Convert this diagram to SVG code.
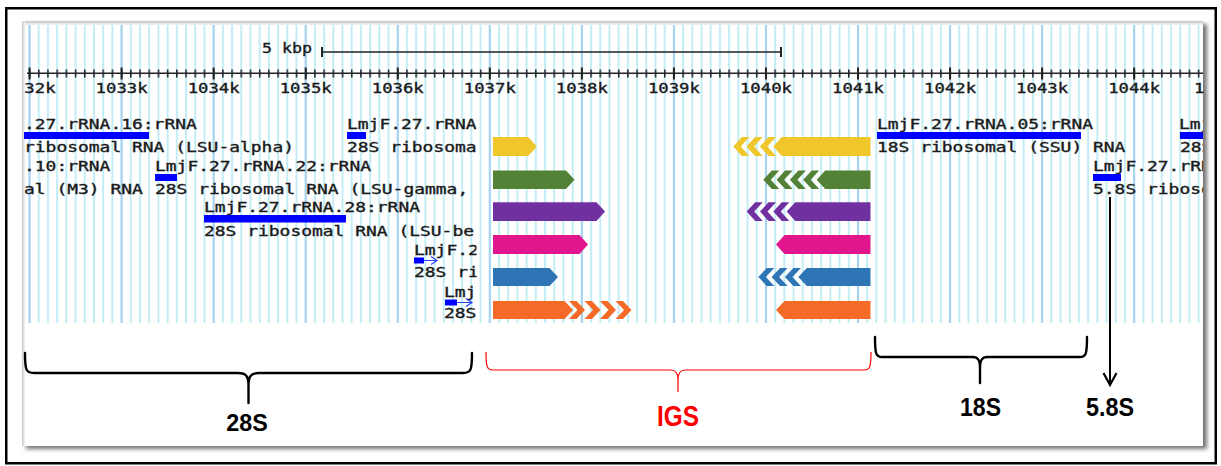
<svg xmlns="http://www.w3.org/2000/svg" width="1221" height="466" viewBox="0 0 1221 466">
<defs>
<style>
.m{font-family:"DejaVu Sans Mono","Liberation Mono",monospace;font-size:14px;fill:#1a1a1a;stroke:#1a1a1a;stroke-width:0.35}
.r{font-family:"DejaVu Sans Mono","Liberation Mono",monospace;font-size:14px;fill:#1a1a1a;stroke:#1a1a1a;stroke-width:0.35;text-anchor:middle}
.b{font-family:"Liberation Sans",Arial,sans-serif;font-weight:bold;fill:#000;text-anchor:middle}
.bar{fill:#0000ff}
.brk{fill:none;stroke:#000;stroke-width:2.4;stroke-linecap:round;stroke-linejoin:round}
.y{fill:#EFC72A}.g{fill:#538135}.p{fill:#7030A0}.k{fill:#E1168C}.u{fill:#2E75B6}.o{fill:#F56A27}
</style>
<pattern id="minor" patternUnits="userSpaceOnUse" x="120.6" y="0" width="9.205" height="466">
<rect x="0" y="0" width="2" height="466" fill="#c2edf5"/>
</pattern>
<pattern id="major" patternUnits="userSpaceOnUse" x="120.6" y="0" width="92.05" height="466">
<rect x="0" y="0" width="2" height="466" fill="#a6d2ef"/>
</pattern>
<pattern id="tick" patternUnits="userSpaceOnUse" x="120.85" y="0" width="9.205" height="466">
<rect x="0" y="0" width="1.5" height="466" fill="#222"/>
</pattern>
<pattern id="mtick" patternUnits="userSpaceOnUse" x="120.6" y="0" width="92.05" height="466">
<rect x="0" y="0" width="2" height="466" fill="#222"/>
</pattern>
<linearGradient id="topg" x1="0" y1="0" x2="0" y2="1">
<stop offset="0" stop-color="#c4c4c4"/><stop offset="1" stop-color="#f4f4f4"/>
</linearGradient>
<linearGradient id="leftg" x1="0" y1="0" x2="1" y2="0">
<stop offset="0" stop-color="#c8c8c8"/><stop offset="1" stop-color="#f4f4f4"/>
</linearGradient>
<filter id="sh" x="-3%" y="-3%" width="106%" height="108%">
<feDropShadow dx="4" dy="3" stdDeviation="2" flood-color="#000" flood-opacity="0.55"/>
</filter>
<clipPath id="trk"><rect x="25" y="24" width="1178" height="300"/></clipPath>
<clipPath id="leftc"><rect x="24" y="100" width="452.5" height="230"/></clipPath>
<clipPath id="rightc"><rect x="870" y="100" width="333" height="230"/></clipPath>
</defs>
<rect width="1221" height="466" fill="#fff"/>
<rect x="6.25" y="8.25" width="1209.5" height="455" fill="none" stroke="#000" stroke-width="2.5"/>
<g id="panel">
<rect x="22" y="21" width="1181" height="425" fill="#fff" filter="url(#sh)"/>
<rect x="22" y="21" width="1181" height="4" fill="url(#topg)"/>
<rect x="22" y="21" width="3" height="425" fill="url(#leftg)"/>
</g>
<g id="grid">
<rect x="25" y="25" width="1178" height="298" fill="url(#minor)"/>
<rect x="25" y="25" width="1178" height="298" fill="url(#major)"/>
</g>
<g id="ruler">
<line x1="27" y1="73.3" x2="1203" y2="73.3" stroke="#222" stroke-width="1.6"/>
<rect x="27" y="69.5" width="1176" height="8" fill="url(#tick)"/>
<rect x="27" y="67.5" width="1176" height="12" fill="url(#mtick)"/>
<g clip-path="url(#trk)">
<text class="r" x="29.55" y="92.5" textLength="52" lengthAdjust="spacingAndGlyphs">1032k</text>
</g>
<text class="r" x="121.6" y="92.5" textLength="52" lengthAdjust="spacingAndGlyphs">1033k</text>
<text class="r" x="213.65" y="92.5" textLength="52" lengthAdjust="spacingAndGlyphs">1034k</text>
<text class="r" x="305.7" y="92.5" textLength="52" lengthAdjust="spacingAndGlyphs">1035k</text>
<text class="r" x="397.75" y="92.5" textLength="52" lengthAdjust="spacingAndGlyphs">1036k</text>
<text class="r" x="489.8" y="92.5" textLength="52" lengthAdjust="spacingAndGlyphs">1037k</text>
<text class="r" x="581.85" y="92.5" textLength="52" lengthAdjust="spacingAndGlyphs">1038k</text>
<text class="r" x="673.9" y="92.5" textLength="52" lengthAdjust="spacingAndGlyphs">1039k</text>
<text class="r" x="765.95" y="92.5" textLength="52" lengthAdjust="spacingAndGlyphs">1040k</text>
<text class="r" x="858" y="92.5" textLength="52" lengthAdjust="spacingAndGlyphs">1041k</text>
<text class="r" x="950.05" y="92.5" textLength="52" lengthAdjust="spacingAndGlyphs">1042k</text>
<text class="r" x="1042.1" y="92.5" textLength="52" lengthAdjust="spacingAndGlyphs">1043k</text>
<text class="r" x="1134.15" y="92.5" textLength="52" lengthAdjust="spacingAndGlyphs">1044k</text>
<text class="m" x="1194" y="92.5" textLength="10.4" lengthAdjust="spacingAndGlyphs">1</text>
</g>
<g id="scalebar">
<text class="m" x="262" y="53" textLength="50" lengthAdjust="spacingAndGlyphs">5 kbp</text>
<line x1="322" y1="52" x2="781" y2="52" stroke="#222" stroke-width="1.5"/>
<line x1="322" y1="47" x2="322" y2="57" stroke="#222" stroke-width="2"/>
<line x1="781" y1="47" x2="781" y2="57" stroke="#222" stroke-width="2"/>
</g>
<g id="tracks-28S" clip-path="url(#leftc)">
<text class="m" x="24" y="129" textLength="172.8" lengthAdjust="spacingAndGlyphs">.27.rRNA.16:rRNA</text>
<rect class="bar" x="24" y="132" width="125" height="7"/>
<text class="m" x="347" y="129" textLength="129.6" lengthAdjust="spacingAndGlyphs">LmjF.27.rRNA</text>
<rect class="bar" x="347" y="132" width="19" height="7"/>
<text class="m" x="24" y="152" textLength="270" lengthAdjust="spacingAndGlyphs">ribosomal RNA (LSU-alpha)</text>
<text class="m" x="347" y="152" textLength="129.6" lengthAdjust="spacingAndGlyphs">28S ribosoma</text>
<text class="m" x="24" y="170.5" textLength="86.4" lengthAdjust="spacingAndGlyphs">.10:rRNA</text>
<text class="m" x="155" y="170.5" textLength="216" lengthAdjust="spacingAndGlyphs">LmjF.27.rRNA.22:rRNA</text>
<rect class="bar" x="155" y="174" width="22" height="7"/>
<text class="m" x="24" y="194" textLength="118.8" lengthAdjust="spacingAndGlyphs">al (M3) RNA</text>
<text class="m" x="155" y="194" textLength="313.2" lengthAdjust="spacingAndGlyphs">28S ribosomal RNA (LSU-gamma,</text>
<text class="m" x="204" y="212" textLength="216" lengthAdjust="spacingAndGlyphs">LmjF.27.rRNA.28:rRNA</text>
<rect class="bar" x="204" y="215" width="142" height="7.5"/>
<text class="m" x="204" y="235.5" textLength="270" lengthAdjust="spacingAndGlyphs">28S ribosomal RNA (LSU-be</text>
<text class="m" x="414" y="255" textLength="64.8" lengthAdjust="spacingAndGlyphs">LmjF.2</text>
<rect class="bar" x="414" y="257.5" width="10" height="6"/>
<line x1="424" y1="260.5" x2="437" y2="260.5" stroke="#2a40ff" stroke-width="1.2"/>
<polyline points="431,256.5 437,260.5 431,264.5" fill="none" stroke="#2a40ff" stroke-width="1.2"/>
<text class="m" x="414" y="277" textLength="64.8" lengthAdjust="spacingAndGlyphs">28S ri</text>
<text class="m" x="444" y="296.5" textLength="32.4" lengthAdjust="spacingAndGlyphs">Lmj</text>
<rect class="bar" x="445" y="299.5" width="12" height="6"/>
<line x1="457" y1="302.5" x2="472" y2="302.5" stroke="#2a40ff" stroke-width="1.2"/>
<polyline points="466,298.5 472,302.5 466,306.5" fill="none" stroke="#2a40ff" stroke-width="1.2"/>
<text class="m" x="444" y="318" textLength="32.4" lengthAdjust="spacingAndGlyphs">28S</text>
</g>
<g id="tracks-18S" clip-path="url(#rightc)">
<text class="m" x="877" y="129" textLength="216" lengthAdjust="spacingAndGlyphs">LmjF.27.rRNA.05:rRNA</text>
<rect class="bar" x="877" y="132" width="204" height="7"/>
<text class="m" x="877" y="152" textLength="248.4" lengthAdjust="spacingAndGlyphs">18S ribosomal (SSU) RNA</text>
<text class="m" x="1093" y="170.5" textLength="118.8" lengthAdjust="spacingAndGlyphs">LmjF.27.rRN</text>
<rect class="bar" x="1093" y="174" width="28" height="7"/>
<text class="m" x="1093" y="194" textLength="118.8" lengthAdjust="spacingAndGlyphs">5.8S riboso</text>
<text class="m" x="1179" y="129" textLength="32.4" lengthAdjust="spacingAndGlyphs">Lmj</text>
<rect class="bar" x="1180" y="132" width="23" height="7"/>
<text class="m" x="1180" y="152" textLength="32.4" lengthAdjust="spacingAndGlyphs">28S</text>
</g>
<g id="igs-yellow">
<polygon class="y" points="493,137 528,137 537,146.5 528,156 493,156"/>
<polygon class="y" points="773.3,146.5 781.8,137 870.5,137 870.5,156 781.8,156"/>
<polygon class="y" points="733.3,146.5 741.8,137 749.3,137 740.8,146.5 749.3,156 741.8,156"/>
<polygon class="y" points="746.6,146.5 755.1,137 762.6,137 754.1,146.5 762.6,156 755.1,156"/>
<polygon class="y" points="759.9,146.5 768.4,137 775.9,137 767.4,146.5 775.9,156 768.4,156"/>
</g>
<g id="igs-green">
<polygon class="g" points="493,170.5 566,170.5 574.5,179.75 566,189 493,189"/>
<polygon class="g" points="816.7,179.75 825.2,170.5 870.5,170.5 870.5,189 825.2,189"/>
<polygon class="g" points="763.3,179.75 771.8,170.5 779.3,170.5 770.8,179.75 779.3,189 771.8,189"/>
<polygon class="g" points="776.6,179.75 785.1,170.5 792.6,170.5 784.1,179.75 792.6,189 785.1,189"/>
<polygon class="g" points="789.9,179.75 798.4,170.5 805.9,170.5 797.4,179.75 805.9,189 798.4,189"/>
<polygon class="g" points="803.2,179.75 811.7,170.5 819.2,170.5 810.7,179.75 819.2,189 811.7,189"/>
</g>
<g id="igs-purple">
<polygon class="p" points="493,202.3 596.5,202.3 605,211.6 596.5,221 493,221"/>
<polygon class="p" points="786.7,211.6 795.2,202.3 870.5,202.3 870.5,221 795.2,221"/>
<polygon class="p" points="746.7,211.6 755.2,202.3 762.7,202.3 754.2,211.6 762.7,221 755.2,221"/>
<polygon class="p" points="760,211.6 768.5,202.3 776,202.3 767.5,211.6 776,221 768.5,221"/>
<polygon class="p" points="773.3,211.6 781.8,202.3 789.3,202.3 780.8,211.6 789.3,221 781.8,221"/>
</g>
<g id="igs-pink">
<polygon class="k" points="493,235 579.5,235 588,244.5 579.5,254 493,254"/>
<polygon class="k" points="776,244.5 784.5,235 870.5,235 870.5,254 784.5,254"/>
</g>
<g id="igs-blue">
<polygon class="u" points="493,268 549.5,268 558,277 549.5,286 493,286"/>
<polygon class="u" points="798.3,277 806.8,268 870.5,268 870.5,286 806.8,286"/>
<polygon class="u" points="758.3,277 766.8,268 774.3,268 765.8,277 774.3,286 766.8,286"/>
<polygon class="u" points="771.6,277 780.1,268 787.6,268 779.1,277 787.6,286 780.1,286"/>
<polygon class="u" points="784.9,277 793.4,268 800.9,268 792.4,277 800.9,286 793.4,286"/>
</g>
<g id="igs-orange">
<polygon class="o" points="493,301 564.5,301 573,310 564.5,319 493,319"/>
<polygon class="o" points="776,310 784.5,301 870.5,301 870.5,319 784.5,319"/>
<polygon class="o" points="585,310 576.5,301 569,301 577.5,310 569,319 576.5,319"/>
<polygon class="o" points="600.5,310 592,301 584.5,301 593,310 584.5,319 592,319"/>
<polygon class="o" points="616,310 607.5,301 600,301 608.5,310 600,319 607.5,319"/>
<polygon class="o" points="631.5,310 623,301 615.5,301 624,310 615.5,319 623,319"/>
</g>
<g id="connectors">
<path class="brk" d="M25,353 C25,370 26,373 34,373 L238,373 C246,373 248.5,376 248.5,386 L248.5,403 M248.5,386 C248.5,376 251,373 259,373 L463,373 C471,373 472,370 472,353"/>
<path d="M486,352 C486,367 487,370 493,370 L671,370 C676,370 678,373 678,380 L678,392 M678,380 C678,373 680,370 685,370 L864,370 C870,370 871,367 871,352" fill="none" stroke="#ff0000" stroke-width="1.2"/>
<path class="brk" stroke-width="2" d="M875,337 C875,354 876,357 882,357 L973,357 C978,357 980,360 980,368 L980,383 M980,368 C980,360 982,357 987,357 L1080,357 C1086,357 1087,354 1087,337"/>
<line x1="1110" y1="197" x2="1110" y2="384" stroke="#000" stroke-width="2"/>
<polyline points="1103.5,373 1110,385 1116.5,373" fill="none" stroke="#000" stroke-width="2.2" stroke-linejoin="miter"/>
</g>
<g id="labels">
<text class="b" x="247" y="430.5" font-size="23" textLength="41.5" lengthAdjust="spacingAndGlyphs">28S</text>
<text class="b" x="678" y="426" font-size="29" style="fill:#ff0000" textLength="42" lengthAdjust="spacingAndGlyphs">IGS</text>
<text class="b" x="980.5" y="415.5" font-size="25.5" textLength="41" lengthAdjust="spacingAndGlyphs">18S</text>
<text class="b" x="1110" y="415.5" font-size="25.5" textLength="48" lengthAdjust="spacingAndGlyphs">5.8S</text>
</g>
</svg>
